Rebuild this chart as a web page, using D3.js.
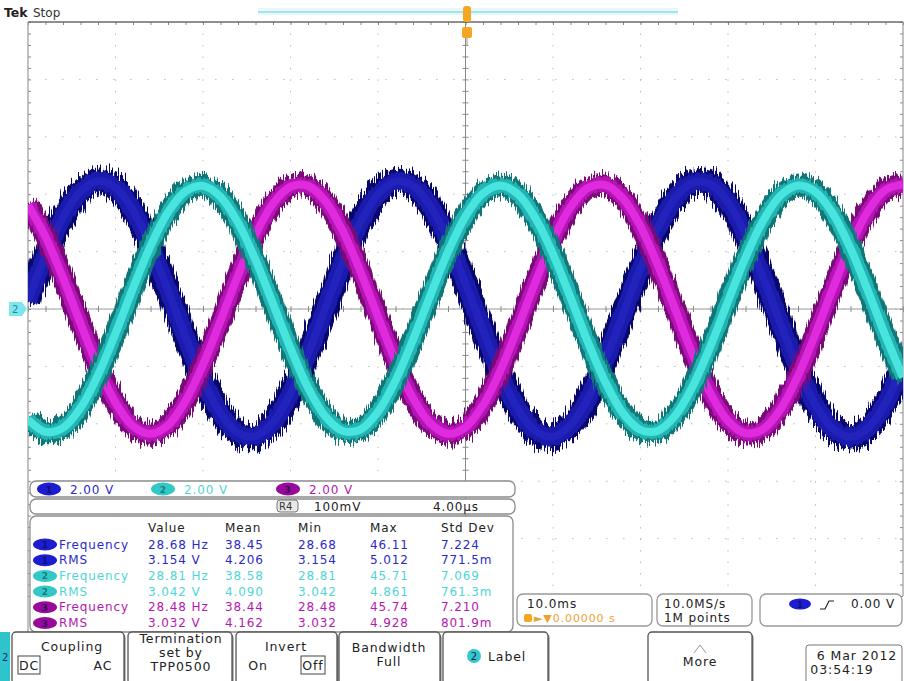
<!DOCTYPE html>
<html><head><meta charset="utf-8">
<script src="https://cdn.jsdelivr.net/npm/d3@7"></script>
<style>
html,body{margin:0;padding:0;background:#fff;}
svg{display:block;font-family:"DejaVu Sans",sans-serif;}
svg text{letter-spacing:0.9px;}
</style></head>
<body><svg id="c" width="904" height="681"></svg>
<script>
// ---- data (time in ms, volts) ----
const times = [-50,-48,-46,-44,-42,-40,-38,-36,-34,-32,-30,-28,-26,-24,-22,-20,-18,-16,-14,-12,-10,-8,-6,-4,-2,0,2,4,6,8,10,12,14,16,18,20,22,24,26,28,30,32,34,36,38,40,42,44,46,48,50];
const ch1Volts = [0.28,1.86,3.19,4.09,4.46,4.23,3.44,2.19,0.65,-0.97,-2.47,-3.63,-4.32,-4.43,-3.95,-2.95,-1.56,0.04,1.64,3.02,4.00,4.44,4.29,3.58,2.39,0.88,-0.74,-2.27,-3.49,-4.25,-4.45,-4.05,-3.12,-1.77,-0.19,1.42,2.84,3.88,4.41,4.35,3.72,2.58,1.11,-0.51,-2.06,-3.35,-4.18,-4.46,-4.15,-3.28,-1.98];
const ch2Volts = [-3.85,-4.28,-4.14,-3.45,-2.30,-0.85,0.72,2.19,3.37,4.10,4.29,3.91,3.01,1.71,0.18,-1.37,-2.74,-3.75,-4.25,-4.20,-3.58,-2.49,-1.07,0.49,1.99,3.23,4.03,4.30,4.00,3.16,1.91,0.40,-1.16,-2.56,-3.63,-4.21,-4.24,-3.70,-2.67,-1.29,0.27,1.79,3.07,3.95,4.30,4.08,3.32,2.11,0.63,-0.94,-2.38];
const ch3Volts = [3.62,2.52,1.08,-0.50,-2.01,-3.26,-4.08,-4.35,-4.05,-3.20,-1.94,-0.41,1.17,2.59,3.67,4.26,4.29,3.75,2.70,1.30,-0.27,-1.81,-3.11,-3.99,-4.35,-4.12,-3.35,-2.14,-0.64,0.95,2.41,3.55,4.22,4.32,3.85,2.88,1.52,-0.04,-1.60,-2.94,-3.90,-4.33,-4.19,-3.49,-2.33,-0.86,0.73,2.21,3.41,4.15,4.34];
const divTimes = [-50,-40,-30,-20,-10,0,10,20,30,40,50];
const divVolts = [-10,-8,-6,-4,-2,0,2,4,6,8,10];
const scaleLabels = ["2.00 V","2.00 V","2.00 V"];
const measHeaders = ["Value","Mean","Min","Max","Std Dev"];
const measNames = ["Frequency","RMS","Frequency","RMS","Frequency","RMS"];
const measChannel = [1,1,2,2,3,3];
const measValue = ["28.68 Hz","3.154 V","28.81 Hz","3.042 V","28.48 Hz","3.032 V"];
const measMean = ["38.45","4.206","38.58","4.090","38.44","4.162"];
const measMin = ["28.68","3.154","28.81","3.042","28.48","3.032"];
const measMax = ["46.11","5.012","45.71","4.861","45.74","4.928"];
const measStd = ["7.224","771.5m","7.069","761.3m","7.210","801.9m"];

const svg = d3.select("#c");
const L=28, R=903, T=22, B=596;
const x = d3.scaleLinear().domain([-50,50]).range([L,R]);
const y = d3.scaleLinear().domain([-10,10]).range([B,T]);

// filters
const defs = svg.append("defs");
function jag(id, freq, scale, seed){
  const f = defs.append("filter").attr("id",id).attr("filterUnits","userSpaceOnUse")
    .attr("x",0).attr("y",0).attr("width",904).attr("height",681)
    .attr("color-interpolation-filters","sRGB");
  f.append("feTurbulence").attr("type","fractalNoise").attr("baseFrequency",freq)
    .attr("numOctaves",2).attr("seed",seed).attr("result","t");
  f.append("feColorMatrix").attr("in","t").attr("type","matrix")
    .attr("values","0 0 0 0 0.5  0 1 0 0 0  0 0 0 0 0  0 0 0 0 1").attr("result","m");
  f.append("feDisplacementMap").attr("in","SourceGraphic").attr("in2","m")
    .attr("scale",scale).attr("xChannelSelector","R").attr("yChannelSelector","G");
}
jag("j1","0.75 0.03",28,2);
jag("j2","0.75 0.03",20,5);
jag("j3","0.75 0.03",22,9);
jag("jc","0.5 0.03",8,4);

// top bar
svg.append("rect").attr("x",258).attr("y",8).attr("width",420).attr("height",7).attr("fill","#e6f8fa");
svg.append("line").attr("x1",258).attr("x2",678).attr("y1",12).attr("y2",12).attr("stroke","#8fdde6").attr("stroke-width",1.5);
svg.append("text").attr("x",4).attr("y",17).attr("font-size",12.5).attr("font-weight","bold").attr("fill","#222").style("letter-spacing","0px").text("Tek");
svg.append("text").attr("x",33).attr("y",17).attr("font-size",12).attr("fill","#333").style("letter-spacing","0px").text("Stop");

// grid
const g = svg.append("g");
g.selectAll("line.v").data(divTimes.slice(1,-1)).join("line")
  .attr("x1",d=>x(d)).attr("x2",d=>x(d)).attr("y1",T).attr("y2",B)
  .attr("stroke","#bdbdbd").attr("stroke-width",1).attr("stroke-dasharray","1.5 9.98");
g.selectAll("line.h").data(divVolts.slice(1,-1)).join("line")
  .attr("x1",L).attr("x2",R).attr("y1",d=>y(d)).attr("y2",d=>y(d))
  .attr("stroke","#bdbdbd").attr("stroke-width",1).attr("stroke-dasharray","1.5 15.5");
g.append("line").attr("x1",x(0)).attr("x2",x(0)).attr("y1",T).attr("y2",B).attr("stroke","#8a8a8a").attr("stroke-width",1);
g.append("line").attr("x1",L).attr("x2",R).attr("y1",y(0)).attr("y2",y(0)).attr("stroke","#9a9a9a").attr("stroke-width",1);
const minorT = d3.range(-50,50.01,2), minorV = d3.range(-10,10.01,0.4);
function tickStyle(sel){ sel.select(".domain").remove(); sel.selectAll("text").remove(); sel.selectAll("line").attr("stroke","#8a8a8a"); }
svg.append("g").attr("transform",`translate(0,${y(0)})`).call(d3.axisBottom(x).tickValues(minorT).tickSize(3).tickFormat("")).call(tickStyle);
svg.append("g").attr("transform",`translate(0,${y(0)})`).call(d3.axisTop(x).tickValues(minorT).tickSize(3).tickFormat("")).call(tickStyle);
svg.append("g").attr("transform",`translate(${x(0)},0)`).call(d3.axisLeft(y).tickValues(minorV).tickSize(3).tickFormat("")).call(tickStyle);
svg.append("g").attr("transform",`translate(${x(0)},0)`).call(d3.axisRight(y).tickValues(minorV).tickSize(3).tickFormat("")).call(tickStyle);
svg.append("g").attr("transform",`translate(0,${T})`).call(d3.axisBottom(x).tickValues(minorT).tickSize(3).tickFormat("")).call(tickStyle);
svg.append("g").attr("transform",`translate(${L},0)`).call(d3.axisRight(y).tickValues(minorV).tickSize(3).tickFormat("")).call(tickStyle);
svg.append("g").attr("transform",`translate(${R},0)`).call(d3.axisLeft(y).tickValues(minorV).tickSize(3).tickFormat("")).call(tickStyle);
svg.append("line").attr("x1",L).attr("x2",R).attr("y1",T).attr("y2",T).attr("stroke","#6a6a6a").attr("stroke-width",1.6);
svg.append("line").attr("x1",L).attr("x2",L).attr("y1",T).attr("y2",632).attr("stroke","#9a9a9a").attr("stroke-width",1.2);
svg.append("line").attr("x1",R).attr("x2",R).attr("y1",T).attr("y2",596).attr("stroke","#9a9a9a").attr("stroke-width",1.2);

// waveforms
const line = d3.line().x((d,i)=>x(times[i])).y(d=>y(d)).curve(d3.curveCatmullRom);
const waves = [
  {v:ch1Volts, outer:"#08086a", mid:"#1a1aac", core:"#2222bc", f:"j1", w:[25,18,8]},
  {v:ch3Volts, outer:"#7a0a78", mid:"#b414b4", core:"#e02ade", f:"j3", w:[22,15,8]},
  {v:ch2Volts, outer:"#117678", mid:"#22b4b2", core:"#48e4de", f:"j2", w:[22,15,8]}
];
const clip = defs.append("clipPath").attr("id","plot");
clip.append("rect").attr("x",L).attr("y",T).attr("width",R-L).attr("height",B-T);
const wg = svg.append("g").attr("clip-path","url(#plot)");
waves.forEach(w=>{
  wg.append("path").attr("d",line(w.v)).attr("fill","none").attr("stroke",w.outer).attr("stroke-width",w.w[0]).attr("filter",`url(#${w.f})`);
  wg.append("path").attr("d",line(w.v)).attr("fill","none").attr("stroke",w.mid).attr("stroke-width",w.w[1]).attr("filter","url(#jc)");
  wg.append("path").attr("d",line(w.v)).attr("fill","none").attr("stroke",w.core).attr("stroke-width",w.w[2]);
});

// ch2 ground marker
svg.append("path").attr("d",`M9,${y(0)-7} H22 L27,${y(0)} L22,${y(0)+7} H9 Z`).attr("fill","#7fe6ee");
svg.append("text").attr("x",12).attr("y",y(0)+4).attr("font-size",10).attr("fill","#1a8aa0").text("2");

// trigger marker
svg.append("rect").attr("x",463).attr("y",6).attr("width",8).attr("height",16).attr("rx",3).attr("fill","#f5a623");
svg.append("rect").attr("x",462).attr("y",27).attr("width",10).attr("height",11).attr("rx",2).attr("fill","#f5a623");
svg.append("line").attr("x1",467).attr("x2",467).attr("y1",38).attr("y2",46).attr("stroke","#999");

// ---- readout panels ----
const chColor = {1:"#1c1cd0",2:"#33c8c8",3:"#9a0a9a"};
const chText = {1:"#2a2ac8",2:"#4fd6d6",3:"#b418b0"};
function ell(cx,cy,ch,rx=12,ry=6.5){
  svg.append("ellipse").attr("cx",cx).attr("cy",cy).attr("rx",rx).attr("ry",ry).attr("fill",chColor[ch]);
  svg.append("text").attr("x",cx).attr("y",cy+3.5).attr("text-anchor","middle").attr("font-size",9).attr("font-weight","bold").attr("fill",ch===2?"#0d5a5e":"#0a0a50").attr("opacity",0.7).style("letter-spacing","0px").text(ch);
}
function box(x0,y0,w,h,r=6,stroke="#8c8c8c"){
  svg.append("rect").attr("x",x0).attr("y",y0).attr("width",w).attr("height",h).attr("rx",r).attr("fill","#fff").attr("stroke",stroke).attr("stroke-width",1.3);
}
box(30,481,485,16);
box(30,499,485,15);
box(30,516,483,116);
const scaleX = [49,163,288];
scaleX.forEach((cx,i)=>{
  ell(cx,489,i+1);
  svg.append("text").attr("x",cx+21).attr("y",493.5).attr("font-size",12).attr("fill",chText[i+1]).text(scaleLabels[i]);
});
svg.append("rect").attr("x",277).attr("y",500).attr("width",21).attr("height",12).attr("rx",3).attr("fill","#e8e8e8").attr("stroke","#777");
svg.append("text").attr("x",279).attr("y",510).attr("font-size",10).attr("fill","#333").style("letter-spacing","0px").text("R4");
svg.append("text").attr("x",314).attr("y",510.5).attr("font-size",12).attr("fill","#222").text("100mV");
svg.append("text").attr("x",433).attr("y",510.5).attr("font-size",12).attr("fill","#222").text("4.00µs");

const colX = [148,225,298,370,441];
measHeaders.forEach((h,i)=>svg.append("text").attr("x",colX[i]).attr("y",532).attr("font-size",12).attr("fill","#222").text(h));
const rowY = d3.scalePoint().domain(d3.range(6)).range([548.5,627]);
const cols = [measValue,measMean,measMin,measMax,measStd];
measNames.forEach((n,r)=>{
  const ch = measChannel[r], yy = rowY(r);
  ell(45,yy-4,ch,12,6);
  svg.append("text").attr("x",59).attr("y",yy).attr("font-size",12).attr("fill",chText[ch]).text(n);
  cols.forEach((c,i)=>svg.append("text").attr("x",colX[i]).attr("y",yy).attr("font-size",12).attr("fill",chText[ch]).text(c[r]));
});

// timebase boxes
box(517,594,135,32,6,"#999");
svg.append("text").attr("x",527).attr("y",608).attr("font-size",12).attr("fill","#222").text("10.0ms");
svg.append("rect").attr("x",524).attr("y",614).attr("width",8).attr("height",8).attr("rx",2).attr("fill","#f5a623");
svg.append("text").attr("x",534).attr("y",622).attr("font-size",11).attr("fill","#f0a030").text("►▼0.00000 s");
box(657,594,95,32,6,"#999");
svg.append("text").attr("x",664).attr("y",608).attr("font-size",12).attr("fill","#222").text("10.0MS/s");
svg.append("text").attr("x",664).attr("y",622).attr("font-size",12).attr("fill","#222").text("1M points");
box(760,594,142,32,6,"#999");
ell(800,604,1,11,5.5);
svg.append("path").attr("d","M820,609 H825 L829,601 H834").attr("fill","none").attr("stroke","#222").attr("stroke-width",1.2);
svg.append("text").attr("x",851).attr("y",608).attr("font-size",12).attr("fill","#222").text("0.00 V");

// bottom button bar
svg.append("rect").attr("x",0).attr("y",632).attr("width",10).attr("height",49).attr("fill","#2ec4cc");
svg.append("text").attr("x",2).attr("y",661).attr("font-size",10).attr("fill","#1a2a80").text("2");
function button(x0,w){
  svg.append("rect").attr("x",x0+1.5).attr("y",634).attr("width",w).attr("height",52).attr("rx",4).attr("fill","#777");
  svg.append("rect").attr("x",x0).attr("y",632).attr("width",w).attr("height",52).attr("rx",4).attr("fill","#fff").attr("stroke","#555").attr("stroke-width",1.3);
}
function t(xx,yy,s,anchor="middle",fs=12.5){ svg.append("text").attr("x",xx).attr("y",yy).attr("text-anchor",anchor).attr("font-size",fs).attr("fill","#222").text(s); }
button(12,112); t(72,651,"Coupling");
svg.append("rect").attr("x",18).attr("y",656).attr("width",22).attr("height",18).attr("fill","#fff").attr("stroke","#444");
t(29,670,"DC"); t(103,670,"AC");
button(128,104); t(181,643,"Termination"); t(181,657,"set by"); t(181,671,"TPP0500");
button(236,101); t(286,651,"Invert"); t(258,670,"On");
svg.append("rect").attr("x",301).attr("y",656).attr("width",24).attr("height",18).attr("fill","#fff").attr("stroke","#444");
t(313,670,"Off");
button(339,101); t(389,652,"Bandwidth"); t(389,666,"Full");
button(443,105);
svg.append("circle").attr("cx",474).attr("cy",656).attr("r",7).attr("fill","#33c8d0");
svg.append("text").attr("x",474).attr("y",660).attr("text-anchor","middle").attr("font-size",10).attr("fill","#123").style("letter-spacing","0px").text("2");
t(488,661,"Label","start");
button(648,104);
svg.append("path").attr("d","M694,653 L700,645 L706,653").attr("fill","none").attr("stroke","#999");
t(700,666,"More");
svg.append("rect").attr("x",806).attr("y",645).attr("width",96).attr("height",40).attr("rx",3).attr("fill","#fff").attr("stroke","#777");
t(857,660,"6 Mar 2012"); t(842,674,"03:54:19");
</script></body></html>
